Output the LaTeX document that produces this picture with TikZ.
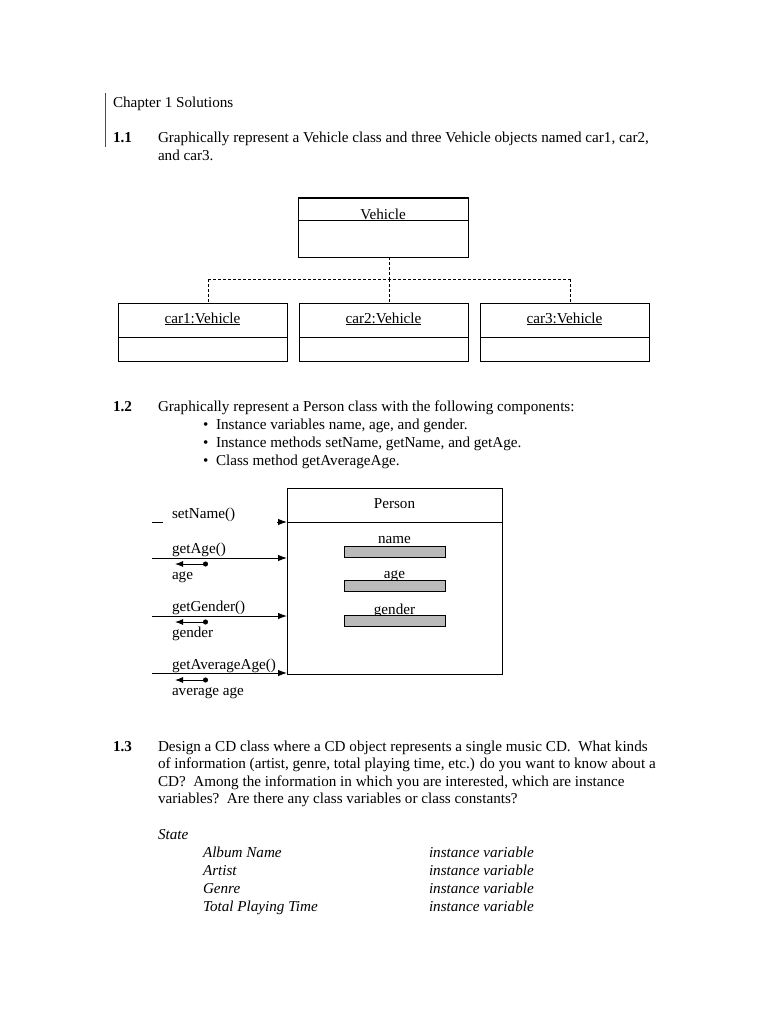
\documentclass[tikz,border=0pt]{standalone}
\usepackage{fontspec}
\setmainfont{Liberation Serif}
\usetikzlibrary{arrows.meta}
\begin{document}
\begin{tikzpicture}[x=1pt,y=-1pt,
  every node/.style={font=\fontsize{15.15}{17.5}\selectfont, inner sep=0pt, outer sep=0pt},
  txt/.style={anchor=base west},
  ctr/.style={anchor=base},
  umlbox/.style={draw, line width=1pt, minimum width=#1},
  sep/.style={line width=1pt},
  dsh/.style={dashed, line width=0.9pt, dash pattern=on 3pt off 2pt},
  call/.style={line width=1pt, -{Latex[length=9pt,width=6.5pt]}},
  ret/.style={line width=1pt, {Latex[length=8pt,width=6pt]}-{Circle[length=5pt]}},
  bar/.style={draw, line width=0.9pt, fill=black!27, minimum width=101pt, minimum height=11pt}]
\useasboundingbox (0,0) rectangle (768,1024);
\fill[white] (0,0) rectangle (768,1024);
% header
\draw[line width=0.9pt, black!70] (105,93) -- (105,147);
\node[txt] (chap) at (113,108) {Chapter 1 Solutions};
% 1.1
\node[txt] (n11) at (113,143) {\bfseries 1.1};
\node[txt] (q11a) at (158,143) {Graphically represent a Vehicle class and three Vehicle objects named car1, car2,};
\node[txt] (q11b) at (158,161) {and car3.};
% Vehicle class
\node[umlbox=170pt, minimum height=59pt] (veh) at (383,227.5) {};
\node[ctr] (vehl) at (383,220) {Vehicle};
\draw[sep] (veh.west |- 0,221) -- (veh.east |- 0,221);
\draw[line width=1.5pt] (veh.north west) -- (veh.north east);
% objects
\node[umlbox=169pt, minimum height=58pt] (car1) at (202.5,332) {};
\node[umlbox=169pt, minimum height=58pt] (car2) at (383.5,332) {};
\node[umlbox=169pt, minimum height=58pt] (car3) at (564.5,332) {};
\node[ctr] (car1l) at (202.5,323) {\underline{car1:Vehicle}};
\node[ctr] (car2l) at (383.5,323) {\underline{car2:Vehicle}};
\node[ctr] (car3l) at (564.5,323) {\underline{car3:Vehicle}};
\draw[sep] (car1.west |- 0,337) -- (car1.east |- 0,337);
\draw[sep] (car2.west |- 0,337) -- (car2.east |- 0,337);
\draw[sep] (car3.west |- 0,337) -- (car3.east |- 0,337);
% dashed links
\coordinate (jm) at (389,279);
\coordinate (jl) at (208,279);
\coordinate (jr) at (570,279);
\draw[dsh] (jm |- veh.south) -- (jm);
\draw[dsh] (jl) -- (jr);
\draw[dsh] (jl) -- (jl |- car1.north);
\draw[dsh] (jm) -- (jm |- car2.north);
\draw[dsh] (jr) -- (jr |- car3.north);
% 1.2
\node[txt] (n12) at (113,411) {\bfseries 1.2};
\node[txt] (q12) at (158,411) {Graphically represent a Person class with the following components:};
\node[txt] (b1) at (203,429) {•};
\node[txt] (b1t) at (216,429) {Instance variables name, age, and gender.};
\node[txt] (b2) at (203,447) {•};
\node[txt] (b2t) at (216,447) {Instance methods setName, getName, and getAge.};
\node[txt] (b3) at (203,465) {•};
\node[txt] (b3t) at (216,465) {Class method getAverageAge.};
% Person class
\node[umlbox=215pt, minimum height=186pt] (person) at (394.5,581) {};
\node[ctr] (personl) at (394.5,508) {Person};
\draw[sep] (person.west |- 0,522) -- (person.east |- 0,522);
\node[ctr] (namel) at (394.5,543.5) {name};
\node[bar] (nameb) at (394.5,552) {};
\node[ctr] (agel) at (394.5,578) {age};
\node[bar] (ageb) at (394.5,586) {};
\node[ctr] (genderl) at (394.5,614) {gender};
\node[bar] (genderb) at (394.5,621) {};
% messages
\coordinate (d1) at (152,522);
\draw[line width=1pt] (d1) -- ++(11,0);
\node[txt] (m1) at (172,518) {setName()};
\coordinate (s1) at (277,522);
\draw[call] (s1) -- (person.west |- s1);

\coordinate (s2) at (152,558);
\node[txt] (m2) at (172,553.5) {getAge()};
\draw[call] (s2) -- (person.west |- s2);
\coordinate (r2a) at (175,564);
\coordinate (r2b) at (208,564);
\draw[ret] (r2a) -- (r2b);
\node[txt] (v2) at (172,579) {age};

\coordinate (s3) at (152,616);
\node[txt] (m3) at (172,611.5) {getGender()};
\draw[call] (s3) -- (person.west |- s3);
\coordinate (r3a) at (175,622);
\coordinate (r3b) at (208,622);
\draw[ret] (r3a) -- (r3b);
\node[txt] (v3) at (172,637) {gender};

\coordinate (s4) at (152,673);
\node[txt] (m4) at (172,669.5) {getAverageAge()};
\draw[call] (s4) -- (person.west |- s4);
\coordinate (r4a) at (175,680);
\coordinate (r4b) at (208,680);
\draw[ret] (r4a) -- (r4b);
\node[txt] (v4) at (172,695) {average age};
% 1.3
\node[txt] (n13) at (113,751) {\bfseries 1.3};
\node[txt] (q13a) at (158,751) {Design a CD class where a CD object represents a single music CD.\ \ What kinds};
\node[txt] (q13b) at (158,768.5) {of information (artist, genre, total playing time, etc.) do you want to know about a};
\node[txt] (q13c) at (158,786) {CD?\ \ Among the information in which you are interested, which are instance};
\node[txt] (q13d) at (158,803.5) {variables?\ \ Are there any class variables or class constants?};
\node[txt] (state) at (158,839) {\itshape State};
\node[txt] (a1) at (203,857) {\itshape Album Name};
\node[txt] (a2) at (203,875) {\itshape Artist};
\node[txt] (a3) at (203,893) {\itshape Genre};
\node[txt] (a4) at (203,911) {\itshape Total Playing Time};
\node[txt] (k1) at (429,857) {\itshape instance variable};
\node[txt] (k2) at (429,875) {\itshape instance variable};
\node[txt] (k3) at (429,893) {\itshape instance variable};
\node[txt] (k4) at (429,911) {\itshape instance variable};
\end{tikzpicture}
\end{document}
